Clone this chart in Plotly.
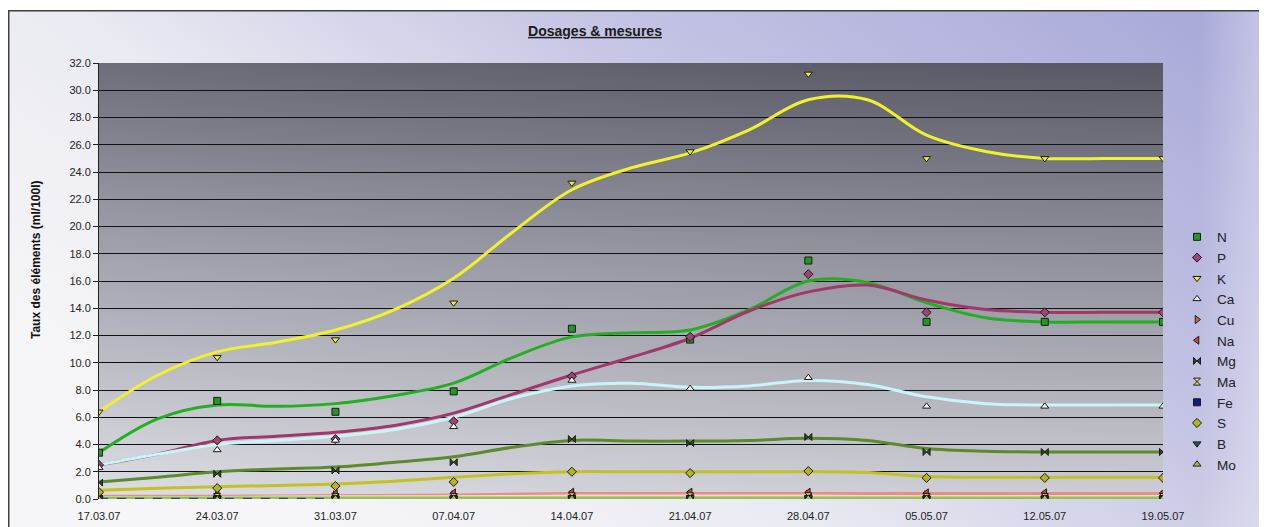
import base64
import plotly.graph_objects as go

# ---------------- data ----------------
dates = ["17.03.07", "24.03.07", "31.03.07", "07.04.07", "14.04.07",
         "21.04.07", "28.04.07", "05.05.07", "12.05.07", "19.05.07"]
y_ticks = [0, 2, 4, 6, 8, 10, 12, 14, 16, 18, 20, 22, 24, 26, 28, 30, 32]

series_names = ["N", "P", "K", "Ca", "Cu", "Na", "Mg", "Ma", "Fe", "S", "B", "Mo"]

# measured points (one per date)
N_pts  = [3.4, 7.2, 6.4, 7.9, 12.5, 11.7, 17.5, 13.0, 13.0, 13.0]
P_pts  = [2.5, 4.3, 4.4, 5.7, 9.0, 11.9, 16.5, 13.7, 13.7, 13.7]
K_pts  = [6.4, 10.4, 11.7, 14.4, 23.2, 25.5, 31.2, 25.0, 25.0, 25.0]
Ca_pts = [2.3, 3.6, 4.3, 5.3, 8.7, 8.1, 8.9, 6.8, 6.8, 6.8]
Cu_pts = [0.2, 0.25, 0.3, 0.3, 0.35, 0.35, 0.35, 0.3, 0.3, 0.3]
Na_pts = [0.3, 0.35, 0.4, 0.45, 0.5, 0.5, 0.5, 0.45, 0.45, 0.45]
Mg_pts = [1.2, 1.85, 2.1, 2.7, 4.4, 4.1, 4.55, 3.45, 3.45, 3.45]
Ma_pts = [0.15, 0.15, 0.15, 0.15, 0.2, 0.2, 0.2, 0.15, 0.15, 0.15]
Fe_pts = [0.0, 0.0, 0.0, 0.0, 0.0, 0.0, 0.0, 0.0, 0.0, 0.0]
S_pts  = [0.5, 0.8, 0.95, 1.25, 2.0, 1.9, 2.05, 1.55, 1.55, 1.55]
B_pts  = [0.05, 0.05, 0.05, 0.05, 0.1, 0.1, 0.1, 0.05, 0.05, 0.05]
Mo_pts = [0.0, 0.0, 0.05, 0.05, 0.05, 0.05, 0.05, 0.05, 0.05, 0.05]

# smoothed curves read at every half week (19 values)
N_curve  = [3.4, 5.9, 6.9, 6.8, 7.0, 7.6, 8.5, 10.4, 11.9, 12.2, 12.4, 13.9, 16.0, 15.9, 14.4, 13.3, 13.0, 13.0, 13.0]
P_curve  = [2.5, 3.3, 4.3, 4.6, 4.9, 5.4, 6.3, 7.7, 9.1, 10.4, 11.8, 13.8, 15.2, 15.7, 14.6, 13.9, 13.7, 13.7, 13.7]
K_curve  = [6.4, 9.1, 10.8, 11.5, 12.4, 13.9, 16.2, 19.6, 22.7, 24.3, 25.4, 27.1, 29.3, 29.3, 26.7, 25.5, 25.0, 25.0, 25.0]
Ca_curve = [2.5, 3.3, 4.0, 4.3, 4.6, 5.1, 6.0, 7.4, 8.3, 8.5, 8.2, 8.3, 8.7, 8.4, 7.5, 7.0, 6.9, 6.9, 6.9]
Mg_curve = [1.25, 1.6, 2.0, 2.2, 2.35, 2.7, 3.1, 3.8, 4.3, 4.25, 4.25, 4.3, 4.45, 4.3, 3.7, 3.5, 3.45, 3.45, 3.45]
S_curve  = [0.65, 0.78, 0.9, 1.0, 1.1, 1.3, 1.6, 1.85, 2.0, 2.0, 2.0, 2.0, 2.0, 1.95, 1.65, 1.6, 1.6, 1.6, 1.6]
# small series curves (one per date)
Cu_curve = [0.2, 0.2, 0.25, 0.3, 0.4, 0.4, 0.4, 0.4, 0.4, 0.4]
Na_curve = [0.15, 0.15, 0.2, 0.2, 0.25, 0.25, 0.25, 0.2, 0.2, 0.2]
Ma_curve = [0.1, 0.1, 0.1, 0.1, 0.1, 0.1, 0.1, 0.1, 0.1, 0.1]
Fe_curve = [0.0, 0.0, 0.0, None, None, None, None, None, None, None]
B_curve  = [0.05, 0.05, 0.05, 0.05, 0.05, 0.05, 0.05, 0.05, 0.05, 0.05]
Mo_curve = [0.08, 0.08, 0.08, 0.08, 0.08, 0.08, 0.08, 0.08, 0.08, 0.08]

points = [N_pts, P_pts, K_pts, Ca_pts, Cu_pts, Na_pts, Mg_pts, Ma_pts, Fe_pts, S_pts, B_pts, Mo_pts]
curves = [N_curve, P_curve, K_curve, Ca_curve, Cu_curve, Na_curve, Mg_curve, Ma_curve, Fe_curve, S_curve, B_curve, Mo_curve]

# ---------------- styles ----------------
line_colors = ["#22b022", "#a0386a", "#f2f22a", "#c8f6f6", "#f08a84", "#f3dede",
               "#5c8a2c", "#8aa040", "#2a4a72", "#c2c222", "#206060", "#92c452"]
line_dash = ["solid"] * 8 + ["dash"] + ["solid"] * 3
line_width = [3, 3, 3, 3, 3, 2, 3, 2, 2.5, 3, 2, 2.5]
line_order = [0, 1, 2, 3, 4, 5, 6, 7, 9, 10, 11, 8]   # Fe dashes end up on top
marker_symbols = ["square", "diamond", "triangle-down", "triangle-up", "triangle-right",
                  "triangle-left", "bowtie", "hourglass", "square", "diamond",
                  "triangle-down", "triangle-up"]
marker_fill = ["#1f9a1f", "#a04476", "#f0f030", "#ffffff", "#e0602c", "#d84040",
               "#2c4a1c", "#e8e070", "#101c80", "#b4b41c", "#1c5a5a", "#9cc848"]
marker_size = [7, 7, 7, 7, 7, 7, 7, 7, 7, 7, 7, 7]

x_idx = list(range(len(dates)))

fig = go.Figure()

for i in line_order:
    cv = curves[i]
    n = len(cv)
    step = (len(dates) - 1) / (n - 1)
    xs = [k * step for k in range(n)]
    fig.add_trace(go.Scatter(
        x=xs, y=cv, mode="lines", showlegend=False, hoverinfo="skip",
        line=dict(color=line_colors[i], width=line_width[i], shape="spline",
                  smoothing=1.0, dash=line_dash[i]),
    ))

for name, pts, sym, fc, sz in zip(series_names, points, marker_symbols, marker_fill, marker_size):
    fig.add_trace(go.Scatter(
        x=x_idx, y=pts, mode="markers", name=name,
        marker=dict(symbol=sym, color=fc, size=sz,
                    line=dict(color="#1a1a1a", width=1)),
    ))

# ---------------- backgrounds (gradients) ----------------
def svg_uri(svg):
    return "data:image/svg+xml;base64," + base64.b64encode(svg.encode()).decode()

paper_svg = """<svg xmlns='http://www.w3.org/2000/svg' width='1267' height='525' preserveAspectRatio='none' viewBox='0 0 1267 525'>
<defs><linearGradient id='g' x1='0' y1='0.6' x2='1' y2='0'>
<stop offset='0' stop-color='#f6f6f8'/>
<stop offset='0.3' stop-color='#eaeaf2'/>
<stop offset='0.6' stop-color='#c4c4e4'/>
<stop offset='1' stop-color='#a6a6d8'/>
</linearGradient>
<linearGradient id='h' x1='0' y1='0' x2='1' y2='0'>
<stop offset='0' stop-color='#ffffff' stop-opacity='0'/>
<stop offset='0.94' stop-color='#ffffff' stop-opacity='0'/>
<stop offset='1' stop-color='#ffffff' stop-opacity='0.4'/>
</linearGradient></defs>
<rect width='1267' height='525' fill='url(#g)'/>
<rect width='1267' height='525' fill='url(#h)'/>
<rect x='0.75' y='0.75' width='1280' height='540' fill='none' stroke='#404040' stroke-width='1.5'/>
</svg>"""

plot_svg = """<svg xmlns='http://www.w3.org/2000/svg' width='1064' height='436' preserveAspectRatio='none' viewBox='0 0 1064 436'>
<defs><linearGradient id='v' x1='0' y1='0' x2='0' y2='1'>
<stop offset='0' stop-color='#5e5e6c'/>
<stop offset='0.45' stop-color='#9a9aa6'/>
<stop offset='1' stop-color='#dadae2'/>
</linearGradient>
<linearGradient id='s' x1='0' y1='0' x2='1' y2='0'>
<stop offset='0' stop-color='#ffffff' stop-opacity='0.10'/>
<stop offset='1' stop-color='#000000' stop-opacity='0.06'/>
</linearGradient></defs>
<rect width='1064' height='436' fill='url(#v)'/>
<rect width='1064' height='436' fill='url(#s)'/>
</svg>"""

# the page puts the figure 8px from the window corner; positions below are figure pixels
OFF = 8
W, H = 1267, 527
L, R, T, B = 99 - OFF, 1163 - OFF, 63 - OFF, 499 - OFF
PW, PH = R - L, B - T
def px_x(sx): return (sx - OFF - L) / PW
def px_y(sy): return (B - (sy - OFF)) / PH

fig.add_layout_image(dict(
    source=svg_uri(paper_svg), xref="paper", yref="paper",
    x=px_x(8), y=px_y(10), sizex=W / PW, sizey=(H - 2) / PH,
    xanchor="left", yanchor="top", sizing="stretch", layer="below"))
fig.add_layout_image(dict(
    source=svg_uri(plot_svg), xref="paper", yref="paper",
    x=0, y=1, sizex=1, sizey=1,
    xanchor="left", yanchor="top", sizing="stretch", layer="below"))

font_family = "Liberation Sans, Arial, sans-serif"

fig.add_annotation(
    text="<b>Taux des éléments (ml/100l)</b>", textangle=-90,
    xref="paper", yref="paper", x=px_x(36), y=px_y(260),
    showarrow=False, font=dict(family=font_family, size=12, color="#111111"),
    xanchor="center", yanchor="middle")

fig.update_layout(
    width=W, height=H,
    margin=dict(l=L, r=W - R, t=T, b=H - B),
    paper_bgcolor="#ffffff",
    plot_bgcolor="rgba(0,0,0,0)",
    font=dict(family=font_family, size=11, color="#222222"),
    title=dict(text="<b><u>Dosages &amp; mesures</u></b>", x=(595 - OFF) / W,
               xref="container", xanchor="center", y=1 - (31 - OFF) / H, yref="container",
               yanchor="middle", font=dict(family=font_family, size=14, color="#1a1a1a")),
    showlegend=True,
    legend=dict(x=px_x(1177), y=px_y(351), xanchor="left", yanchor="middle",
                bgcolor="rgba(0,0,0,0)", font=dict(family=font_family, size=13.6, color="#222222"),
                tracegroupgap=0, itemsizing="trace"),
    xaxis=dict(range=[0, len(dates) - 1], tickmode="array", tickvals=x_idx, ticktext=dates,
               showgrid=False, zeroline=False, showline=False,
               ticks="outside", ticklen=7, tickcolor="rgba(0,0,0,0)",
               tickfont=dict(size=11, color="#222222")),
    yaxis=dict(range=[0, 32], tickmode="array", tickvals=y_ticks,
               ticktext=[f"{v:.1f}" for v in y_ticks],
               showgrid=True, gridcolor="#111111", gridwidth=1,
               zeroline=False, showline=True, linecolor="#222222", linewidth=1,
               ticks="outside", ticklen=5, tickcolor="#222222",
               tickfont=dict(size=11, color="#222222")),
)

fig.write_html("out.html")
